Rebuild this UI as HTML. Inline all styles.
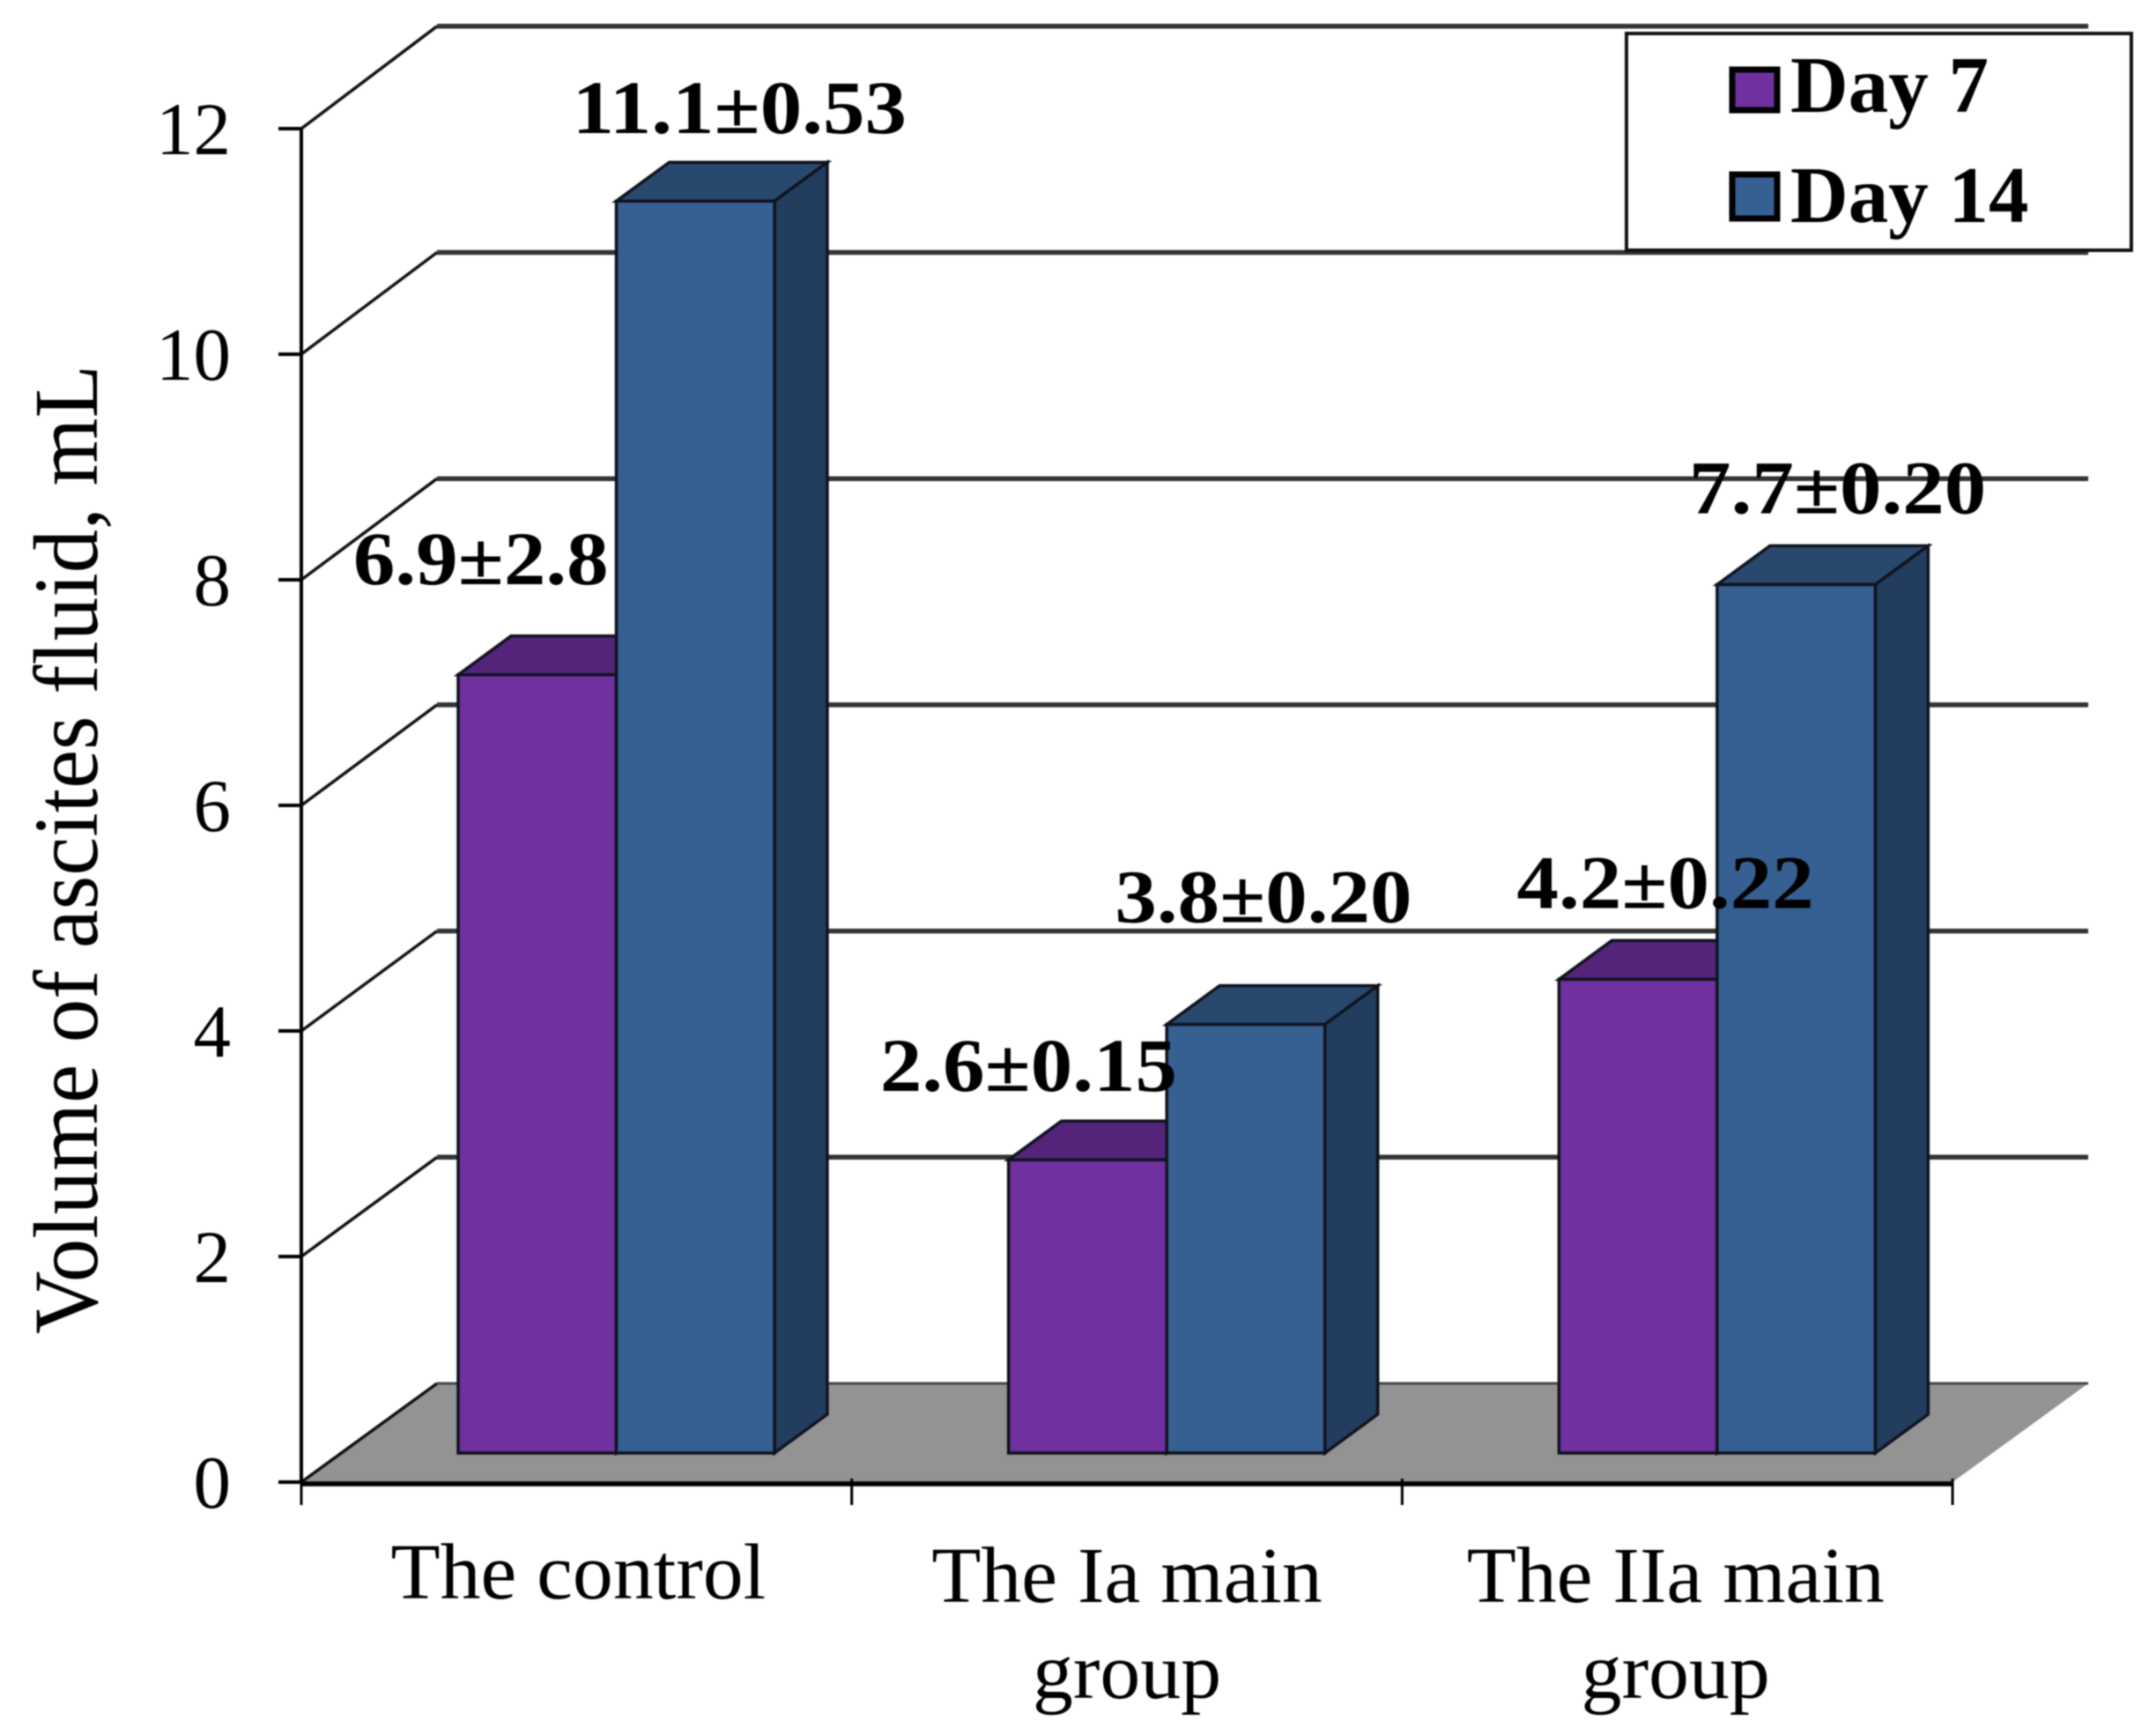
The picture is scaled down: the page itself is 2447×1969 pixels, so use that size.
<!DOCTYPE html>
<html lang="en">
<head>
<meta charset="utf-8">
<title>Volume of ascites fluid</title>
<style>
html,body{margin:0;padding:0;background:#fff;}
svg{display:block;filter:blur(0.7px);font-family:"Liberation Serif",serif;}
</style>
</head>
<body>
<svg id="chart" width="2447" height="1969" viewBox="0 0 2447 1969" xmlns="http://www.w3.org/2000/svg">
  <rect x="0" y="0" width="2447" height="1969" fill="#ffffff"/>
  <g id="plot-layer"></g>
  <text transform="translate(110,964) rotate(-90)" text-anchor="middle" font-size="104" textLength="1100" lengthAdjust="spacingAndGlyphs" fill="#000">Volume of ascites fluid, mL</text>
  <g>
    <rect x="1846" y="38" width="573" height="246" fill="#ffffff" stroke="#111" stroke-width="4"/>
    <g>
      <rect x="1966" y="79" width="51" height="46" fill="#7030a0" stroke="#000" stroke-width="7"/>
      <text x="2032" y="127" font-size="91" font-weight="700" fill="#000">Day 7</text>
    </g>
    <g>
      <rect x="1966" y="198" width="51" height="50" fill="#366092" stroke="#000" stroke-width="7"/>
      <text x="2032" y="252" font-size="91" font-weight="700" fill="#000">Day 14</text>
    </g>
  </g>
</svg>
<script>
const categoryLines = [["The control"], ["The Ia main", "group"], ["The IIa main", "group"]];
const day7Values = [6.9, 2.6, 4.2];
const day14Values = [11.1, 3.8, 7.7];
const day7Labels = ["6.9±2.8", "2.6±0.15", "4.2±0.22"];
const day14Labels = ["11.1±0.53", "3.8±0.20", "7.7±0.20"];
const yTicks = [0, 2, 4, 6, 8, 10, 12];

const svgNS = 'http://www.w3.org/2000/svg';
const layer = document.getElementById('plot-layer');

function make(tag, attrs, text) {
  const el = document.createElementNS(svgNS, tag);
  for (const k in attrs) el.setAttribute(k, attrs[k]);
  if (text !== undefined) el.textContent = text;
  layer.appendChild(el);
  return el;
}

/* axis functions */
const UNIT = 128;
const BACK_UNIT = 128.35;
const FRONT_LEFT = 342, FRONT_ZERO = 1682;
const CAT_WIDTH = 624.7;
const DEPTH_X = 154, DEPTH_Y = 112;
const BAR_ZERO = 1649, BAR_WIDTH = 179.5, BAR_INSET = 178;
const BAR_DX = 60, BAR_DY = 44;
function wallY(v) { return FRONT_ZERO - v * UNIT; }
function backY(v) { return FRONT_ZERO - DEPTH_Y - v * BACK_UNIT; }
function barY(v) { return BAR_ZERO - v * UNIT; }
function catX(i) { return FRONT_LEFT + i * CAT_WIDTH; }
function barX(i, s) { return catX(i) + BAR_INSET + s * BAR_WIDTH; }
const FRONT_RIGHT = catX(categoryLines.length);

function pts(list) { return list.map(function (p) { return p[0] + ',' + p[1]; }).join(' '); }

/* floor */
const floor = make('polygon', {
  points: pts([[FRONT_LEFT, wallY(0)], [FRONT_LEFT + DEPTH_X, backY(0)], [FRONT_RIGHT + DEPTH_X, backY(0)], [FRONT_RIGHT, wallY(0)]]),
  fill: '#939393'
});



/* gridlines and wall diagonals */
yTicks.forEach(function (v) {
  const y = wallY(v);
  const by = backY(v);
  const grid = make('line', { x1: FRONT_LEFT + DEPTH_X, y1: by, x2: FRONT_RIGHT + DEPTH_X, y2: by, stroke: v === 0 ? '#444' : '#333', 'stroke-width': v === 0 ? 3 : 5.5 });
  
  
  const diag = make('line', { x1: FRONT_LEFT, y1: y, x2: FRONT_LEFT + DEPTH_X, y2: by, stroke: '#111', 'stroke-width': 3.5 });
  
  
  const tick = make('line', { x1: FRONT_LEFT - 26, y1: y, x2: FRONT_LEFT, y2: y, stroke: '#000', 'stroke-width': 4 });
  
  
  const label = make('text', { x: 262, y: y + 29, 'text-anchor': 'end', 'font-size': 85, fill: '#000' }, String(v));
  
  
});

/* axes */
const yAxis = make('line', { x1: FRONT_LEFT, y1: wallY(12), x2: FRONT_LEFT, y2: wallY(0) + 2, stroke: '#000', 'stroke-width': 4 });


const xAxis = make('line', { x1: FRONT_LEFT, y1: wallY(0) + 2, x2: FRONT_RIGHT, y2: wallY(0) + 2, stroke: '#000', 'stroke-width': 5.5 });


for (let i = 0; i <= categoryLines.length; i++) {
  const t = make('line', { x1: catX(i), y1: wallY(0) - 4, x2: catX(i), y2: wallY(0) + 26, stroke: '#000', 'stroke-width': 3 });
  
  
}

/* category labels */
const lineBaselines = [1814, 1927];
categoryLines.forEach(function (lines, i) {
  lines.forEach(function (line, j) {
    const baseline = lines.length > 1 && j === 0 ? lineBaselines[0] + 4 : lineBaselines[j];
    const cx = catX(i) + CAT_WIDTH / 2 + 2 - i * 2;
    const t = make('text', { transform: 'translate(' + cx + ',' + baseline + ') scale(1.02,1)', 'text-anchor': 'middle', 'font-size': 90, fill: '#000' }, line);
    
    
  });
});

/* bars */
function drawBar(i, s, v, front, top, side) {
  const x = barX(i, s), y = barY(v), w = BAR_WIDTH;
  const g = make('g', {});
  
  
  const common = { stroke: '#10131f', 'stroke-width': 3.5, 'stroke-linejoin': 'miter' };
  function face(p, fill) {
    const el = make('polygon', Object.assign({ points: pts(p), fill: fill }, common));
    g.appendChild(el);
    return el;
  }
  const topFace = face([[x, y], [x + BAR_DX, y - BAR_DY], [x + w + BAR_DX, y - BAR_DY], [x + w, y]], top);
  
  
  const sideFace = face([[x + w, y], [x + w + BAR_DX, y - BAR_DY], [x + w + BAR_DX, BAR_ZERO - BAR_DY], [x + w, BAR_ZERO]], side);
  
  
  const frontFace = face([[x, y], [x + w, y], [x + w, BAR_ZERO], [x, BAR_ZERO]], front);
  
  
}
categoryLines.forEach(function (_, i) {
  drawBar(i, 0, day7Values[i], '#7030a0', '#54247a', '#4a2070');
  drawBar(i, 1, day14Values[i], '#366092', '#29486e', '#223d5e');
});

/* value labels: hand-placed in the source, so they carry per-label nudges from the bar top */
function drawValueLabels() {
  const nudges = [
    [[-64, -103], [-67, -78], [31, -81]],
    [[50, -77], [20, -116], [47, -81]]
  ];
  [[day7Values, day7Labels], [day14Values, day14Labels]].forEach(function (series, s) {
    series[0].forEach(function (v, i) {
      const cx = barX(i, s) + BAR_WIDTH / 2 + nudges[s][i][0];
      const by = barY(v) + nudges[s][i][1];
      const t = make('text', { transform: 'translate(' + cx + ',' + by + ') scale(1.105,1)', 'text-anchor': 'middle', 'font-size': 86, 'font-weight': 700, fill: '#000' }, series[1][i]);
      
      
    });
  });
}
drawValueLabels();
</script>
</body>
</html>
